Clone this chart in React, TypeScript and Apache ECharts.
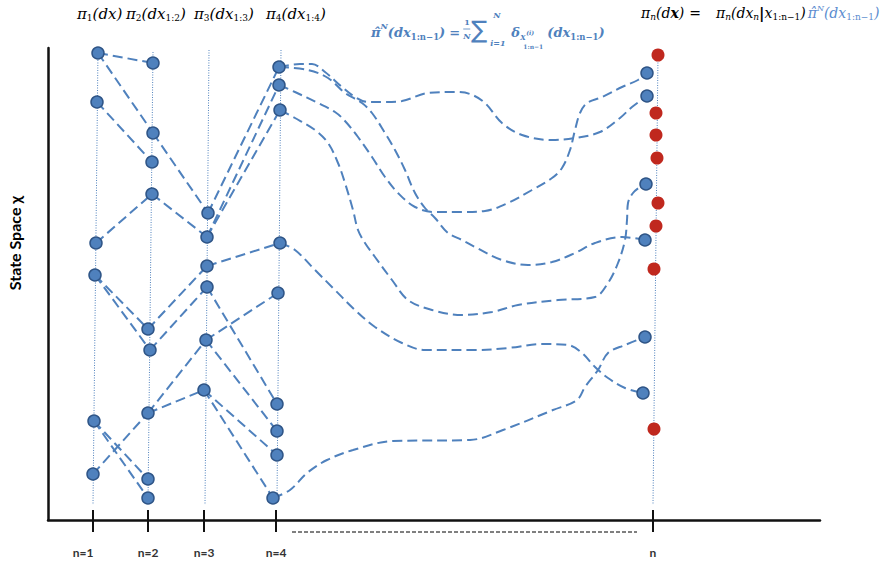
import React, { useEffect, useRef } from "react";
import * as echarts from "echarts";

// ---------- data (x: time position, y: state value) ----------
const COL1 = [[50, 467], [49, 418], [48, 277], [47, 245], [46, 99], [45, 46]];
const COL2 = [[105, 457], [105, 387], [104, 358], [104, 326], [100, 191], [102, 170], [100, 107], [100, 41], [100, 22]];
const COL3 = [[160, 307], [159, 283], [159, 254], [159, 233], [158, 180], [156, 130]];
const COL4 = [[231, 453], [231, 435], [232, 410], [232, 277], [230, 227], [229, 116], [229, 89], [229, 65], [225, 22]];
const COLN = [[599, 447], [599, 424], [598, 336], [597, 280], [597, 183], [595, 127]];
const RESAMPLED = [[610, 465], [608, 407], [608, 385], [609, 362], [610, 317], [608, 294], [606, 251], [606, 91]];

// ancestry links: [parent index, child index]
const EDGES_12 = [[0, 0], [0, 1], [1, 2], [2, 3], [3, 4], [3, 5], [5, 6], [4, 7], [4, 8]];
const EDGES_23 = [[1, 0], [3, 1], [4, 2], [5, 3], [6, 4], [6, 5]];
const EDGES_34 = [[0, 0], [1, 1], [1, 2], [2, 3], [4, 4], [3, 5], [4, 6], [5, 7], [5, 8]];

// long paths from time 4 to time n: [index in COL4, index in COLN]
const PATH_LINKS = [[0, 1], [0, 3], [1, 0], [2, 2], [3, 5], [8, 4]];
const PATH_A = [[252, 456], [264, 456], [277, 448], [294, 433], [307, 423], [320, 418], [337, 418], [354, 419], [380, 427], [407, 428], [422, 426], [437, 417], [454, 397], [474, 385], [504, 380], [527, 382], [552, 388], [572, 402], [584, 413]];
const PATH_B = [[260, 450], [280, 442], [297, 427], [314, 417], [324, 407], [337, 387], [347, 370], [357, 350], [367, 327], [377, 312], [387, 302], [400, 287], [414, 280], [427, 273], [454, 260], [480, 255], [504, 258], [527, 267], [547, 277], [574, 283]];
const PATH_C = [[247, 428], [270, 417], [287, 408], [297, 399], [310, 383], [324, 363], [337, 343], [350, 327], [367, 313], [387, 308], [414, 308], [437, 309], [460, 317], [484, 330], [504, 342], [514, 352], [522, 370], [527, 390], [532, 407], [539, 417], [554, 423], [574, 433], [590, 440]];
const PATH_D = [[247, 402], [267, 390], [280, 377], [290, 357], [297, 337], [305, 310], [310, 290], [317, 277], [327, 263], [344, 240], [360, 220], [384, 210], [414, 205], [444, 208], [470, 215], [510, 220], [547, 223], [560, 237], [570, 257], [577, 280], [579, 300], [580, 317], [585, 327], [592, 333]];
const PATH_E = [[247, 270], [267, 250], [287, 230], [307, 210], [327, 193], [354, 177], [377, 170], [427, 170], [460, 172], [494, 176], [520, 175], [534, 167], [547, 153], [560, 142], [577, 132]];
const PATH_F = [[242, 30], [259, 47], [279, 60], [305, 70], [345, 79], [422, 80], [455, 90], [505, 110], [529, 120], [537, 133], [550, 150], [560, 167], [577, 175]];
const PATHS = [PATH_A, PATH_B, PATH_C, PATH_D, PATH_E, PATH_F];

// vertical guides per time step: [top, bottom]
const GUIDES = [
  [[50, 470], [45, 15]],
  [[105, 468], [100, 17]],
  [[161, 470], [157, 15]],
  [[233, 470], [229, 20]],
  [[610, 465], [605, 15]],
];

const TICK_VALUES = [45, 100, 156, 228, 605];
const TICK_LABELS = ["n=1", "n=2", "n=3", "n=4", "n"];
const ELLIPSIS = [[244, -12], [589, -12]];

// ---------- styling ----------
const BLUE = "#4f81bd";
const LIGHT_BLUE = "#5b8ccf";
const RED = "#c0281e";
const SERIF = '"DejaVu Serif", serif';

let measureCtx: CanvasRenderingContext2D | null = null;
function fontOf(p: any) {
  return `${p.it === false ? "normal" : "italic"} ${p.b ? "bold" : "normal"} ${p.s}px ${p.ff || SERIF}`;
}
function measure(text: string, font: string) {
  if (!measureCtx) measureCtx = document.createElement("canvas").getContext("2d");
  if (!measureCtx) return text.length * 7;
  measureCtx.font = font;
  return measureCtx.measureText(text).width;
}

function txt(text: string, x: number, y: number, p: any) {
  return {
    type: "text",
    x,
    y,
    silent: true,
    z: 100,
    style: {
      text,
      fontSize: p.s,
      fontFamily: p.ff || SERIF,
      fontStyle: p.it === false ? "normal" : "italic",
      fontWeight: p.b ? "bold" : "normal",
      fill: p.c || "#000",
      textAlign: "left",
      textVerticalAlign: "middle",
    },
  };
}

// lay pieces out one after another from x
function flow(g: any[], x: number, y: number, pieces: any[], base: any = {}) {
  let cx = x;
  pieces.forEach((raw) => {
    const p = { ...base, ...raw };
    cx += p.gb || 0;
    g.push(txt(p.t, cx, y + (p.dy || 0), p));
    cx += measure(p.t, fontOf(p)) + (p.ga || 0);
  });
  return cx;
}

function buildGraphics() {
  const g: any[] = [];
  const M = 15;
  const S = 9;
  // top labels
  const tops: [number, string, string][] = [
    [77, "1", ""],
    [126, "2", "1:2"],
    [194, "3", "1:3"],
    [266, "4", "1:4"],
  ];
  tops.forEach(([x0, k, sub]) => {
    const pieces: any[] = [
      { t: "π", s: M },
      { t: k, s: S, it: false, dy: 4 },
    ];
    if (sub) {
      pieces.push({ t: "(dx", s: M }, { t: sub, s: S, it: false, dy: 4 }, { t: ")", s: M });
    } else {
      pieces.push({ t: "(dx)", s: M });
    }
    flow(g, x0, 14, pieces);
  });

  // blue empirical measure formula
  const bb = { c: BLUE, b: true };
  const end1 = flow(g, 371, 32, [
    { t: "π\u0302", s: 13 },
    { t: "N", s: 8, dy: -6 },
    { t: "(dx", s: 13 },
    { t: "1:n−1", s: 8.5, it: false, dy: 5 },
    { t: ")", s: 13 },
  ], bb);
  const d = Math.max(0, end1 + 4 - 443);
  g.push(txt("=", 443 + d, 32, { s: 13, c: BLUE, b: true, it: false }));
  g.push(txt("1", 458 + d, 22, { s: 8, c: BLUE, b: true, it: false }));
  g.push({ type: "line", silent: true, z: 100, shape: { x1: 457 + d, y1: 29, x2: 464 + d, y2: 29 }, style: { stroke: BLUE, lineWidth: 0.8 } });
  g.push(txt("N", 457 + d, 36, { s: 8, c: BLUE, b: true }));
  g.push(txt("∑", 465 + d, 30, { s: 24, c: BLUE, it: false, ff: '"DejaVu Sans", sans-serif' }));
  g.push(txt("N", 487 + d, 15, { s: 8, c: BLUE, b: true }));
  g.push(txt("i=1", 484 + d, 43, { s: 8, c: BLUE, b: true }));
  g.push(txt("δ", 505 + d, 32, { s: 13, c: BLUE, b: true }));
  g.push(txt("X", 514 + d, 37, { s: 7, c: BLUE, b: true }));
  g.push(txt("(i)", 520 + d, 32, { s: 6, c: BLUE, b: true }));
  g.push(txt("1:n−1", 517 + d, 46, { s: 6, c: BLUE, b: true, it: false }));
  flow(g, 541 + d, 32, [
    { t: "(dx", s: 13 },
    { t: "1:n−1", s: 8.5, it: false, dy: 5 },
    { t: ")", s: 13 },
  ], bb);

  // right-hand formula
  const R = 14;
  const x = flow(g, 641, 13, [
    { t: "π", s: R },
    { t: "n", s: S, dy: 4 },
    { t: "(d", s: R },
    { t: "x", s: R, b: true },
    { t: ")", s: R },
    { t: "=", s: R, it: false, gb: 5, ga: 15 },
    { t: "π", s: R },
    { t: "n", s: S, dy: 4 },
    { t: "(dx", s: R },
    { t: "n", s: S, dy: 4 },
    { t: "|", s: 15, it: false, b: true },
    { t: "x", s: R },
    { t: "1:n−1", s: S, it: false, dy: 4 },
    { t: ")", s: R },
  ]);
  flow(g, x + 2, 13, [
    { t: "π\u0302", s: R },
    { t: "N", s: 8, dy: -5 },
    { t: "(dx", s: R },
    { t: "1:n−1", s: S, it: false, dy: 4 },
    { t: ")", s: R },
  ], { c: LIGHT_BLUE });

  // y-axis title
  g.push({
    type: "text",
    x: 14,
    y: 243,
    rotation: Math.PI / 2,
    silent: true,
    style: {
      text: "State Space χ",
      fontSize: 16,
      fontWeight: "bold",
      fontFamily: "Lato, sans-serif",
      fill: "#000",
      textAlign: "center",
      textVerticalAlign: "middle",
    },
  });
  return g;
}

function lineSeries(data: any[], style: any, extra: any = {}) {
  return {
    type: "line",
    data,
    symbol: "none",
    showSymbol: false,
    silent: true,
    animation: false,
    lineStyle: style,
    ...extra,
  };
}

function buildOption() {
  const series: any[] = [];
  GUIDES.forEach((gd) => {
    series.push(lineSeries(gd, { color: BLUE, width: 1, type: [1, 1.5] }, { z: 1 }));
  });
  const dash = { color: BLUE, width: 2, type: [10, 5] };
  const addEdges = (edges: number[][], from: number[][], to: number[][]) =>
    edges.forEach(([p, c]) => series.push(lineSeries([from[p], to[c]], dash, { z: 2 })));
  addEdges(EDGES_12, COL1, COL2);
  addEdges(EDGES_23, COL2, COL3);
  addEdges(EDGES_34, COL3, COL4);
  PATH_LINKS.forEach(([a, b], i) => {
    series.push(lineSeries([COL4[a], ...PATHS[i], COLN[b]], dash, { z: 2, smooth: 0.35 }));
  });
  series.push(lineSeries(ELLIPSIS, { color: "#000", width: 1, type: [4, 2] }, { z: 2, clip: false }));
  series.push({
    type: "scatter",
    data: [...COL1, ...COL2, ...COL3, ...COL4, ...COLN],
    symbolSize: 12,
    silent: true,
    z: 5,
    itemStyle: { color: BLUE, borderColor: "#2f5587", borderWidth: 1.5, opacity: 1 },
  });
  series.push({
    type: "scatter",
    data: RESAMPLED,
    symbolSize: 13,
    silent: true,
    z: 5,
    itemStyle: { color: RED, opacity: 1 },
  });

  const labelFont = { fontSize: 12, fontWeight: "bold", fontFamily: "Lato, sans-serif", color: "#333" };
  return {
    animation: false,
    grid: { left: 48, right: 60, top: 48, bottom: 45, containLabel: false },
    xAxis: [
      {
        type: "value",
        min: 0,
        max: 772,
        axisLine: { show: true, onZero: false, lineStyle: { color: "#111", width: 2.5 } },
        axisTick: { show: true, customValues: TICK_VALUES, length: 12, lineStyle: { color: "#111", width: 2 } },
        axisLabel: {
          show: true,
          customValues: TICK_VALUES,
          margin: 26,
          formatter: (v: number) => {
            const i = TICK_VALUES.indexOf(v);
            const lab = i >= 0 ? TICK_LABELS[i] : "";
            return i === 0 ? "{a|" + lab + "}" : "{b|" + lab + "}";
          },
          rich: {
            a: { ...labelFont, padding: [0, 20, 0, 0] },
            b: { ...labelFont },
          },
        },
        splitLine: { show: false },
      },
      {
        type: "value",
        min: 0,
        max: 772,
        position: "bottom",
        axisLine: { show: false, onZero: false },
        axisTick: { show: true, inside: true, customValues: TICK_VALUES, length: 10, lineStyle: { color: "#111", width: 2 } },
        axisLabel: { show: false },
        splitLine: { show: false },
      },
    ],
    yAxis: {
      type: "value",
      min: 0,
      max: 472,
      axisLine: { show: true, onZero: false, lineStyle: { color: "#111", width: 2.5 } },
      axisTick: { show: false },
      axisLabel: { show: false },
      splitLine: { show: false },
    },
    graphic: buildGraphics(),
    series,
  };
}

export default function App() {
  const ref = useRef<HTMLDivElement>(null);
  useEffect(() => {
    if (!ref.current) return;
    const chart = echarts.init(ref.current, null, { renderer: "svg" });
    chart.setOption(buildOption() as any);
    return () => chart.dispose();
  }, []);
  return (
    <div
      ref={ref}
      style={{ position: "fixed", left: 0, top: 0, width: 880, height: 565, background: "#fff" }}
    />
  );
}
